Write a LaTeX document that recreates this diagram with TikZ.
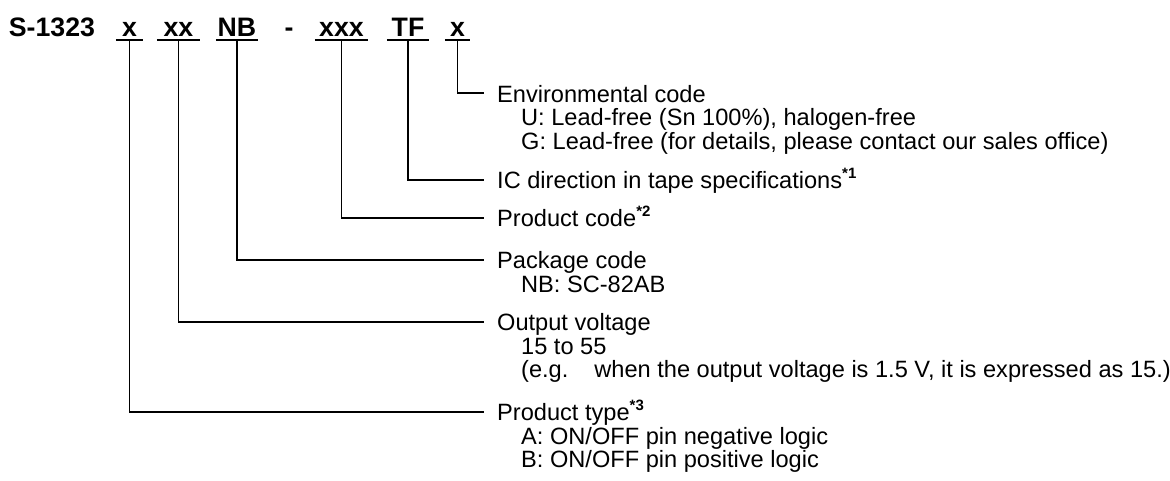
\documentclass[tikz,border=0pt]{standalone}
\usepackage{fontspec}
\setmainfont{Liberation Sans}
\begin{document}
\begin{tikzpicture}[x=1pt,y=-1pt,
  code/.style={font=\fontsize{26.7}{30}\selectfont\bfseries, inner sep=0pt, anchor=base},
  lab/.style={font=\fontsize{23.6}{26}\selectfont, inner sep=0pt, anchor=base west},
  wire/.style={line width=1.3pt},
  uline/.style={line width=1.6pt}]
\newcommand{\note}[1]{\raisebox{10.5pt}{\fontsize{15}{15}\selectfont\bfseries *#1}}
\useasboundingbox (0,0) rectangle (1170,480);
% header
\node[code, anchor=base west] (pfx) at (8.7,36) {S-1323};
\node[code, minimum width=27pt] (c1) at (129.5,36) {x};
\node[code, minimum width=43pt] (c2) at (178.5,36) {xx};
\node[code, minimum width=42pt] (c3) at (237,36) {NB};
\node[code] (dash) at (289,36) {-};
\node[code, minimum width=53pt] (c4) at (341.5,36) {xxx};
\node[code, minimum width=42pt] (c5) at (408,36) {TF};
\node[code, minimum width=25pt] (c6) at (457.5,36) {x};
\coordinate (ul) at (0,40);
\foreach \c in {c1,c2,c3,c4,c5,c6}
  \draw[uline] (\c.west |- ul) -- (\c.east |- ul);
% labels
\node[lab] (l6) at (497,102) {Environmental code};
\node[lab] (l6a) at (521,125.5) {U: Lead-free (Sn 100\%), halogen-free};
\node[lab] (l6b) at (521,149) {G: Lead-free (for details, please contact our sales office)};
\node[lab] (l5) at (497,188.5) {IC direction in tape specifications\note{1}};
\node[lab] (l4) at (497,226.5) {Product code\note{2}};
\node[lab] (l3) at (497,268.5) {Package code};
\node[lab] (l3a) at (521,292) {NB: SC-82AB};
\node[lab] (l2) at (497,330.5) {Output voltage};
\node[lab] (l2a) at (521,354) {15 to 55};
\node[lab] (l2b) at (521,377.5) {(e.g.\hspace{1.1em}when the output voltage is 1.5 V, it is expressed as 15.)};
\node[lab] (l1) at (497,420.5) {Product type\note{3}};
\node[lab] (l1a) at (521,444) {A: ON/OFF pin negative logic};
\node[lab] (l1b) at (521,467.5) {B: ON/OFF pin positive logic};
% connector ends
\coordinate (e6) at (484,93);
\coordinate (e5) at (484,180);
\coordinate (e4) at (484,218);
\coordinate (e3) at (484,260);
\coordinate (e2) at (484,322);
\coordinate (e1) at (484,412);
\foreach \i in {1,...,6}
  \draw[wire] (c\i.center |- ul) |- (e\i);
\end{tikzpicture}
\end{document}
